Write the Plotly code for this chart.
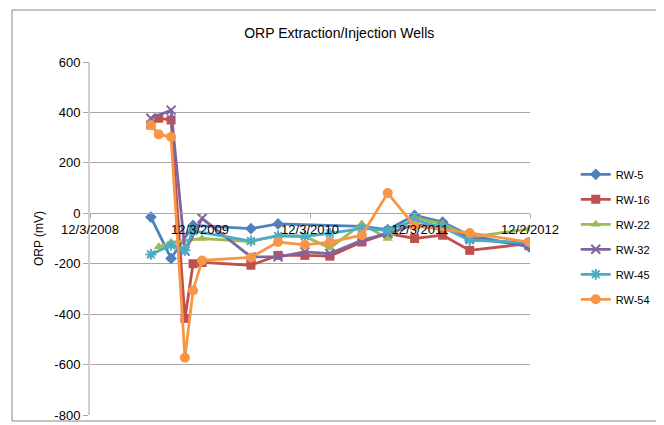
import plotly.graph_objects as go

dates = ["2009-06-23", "2009-07-19", "2009-08-29", "2009-10-14", "2009-11-10",
         "2009-12-10", "2010-05-21", "2010-08-19", "2010-11-16", "2011-02-07",
         "2011-05-24", "2011-08-18", "2011-11-15", "2012-02-16", "2012-05-16",
         "2012-11-29"]

rw5  = [-15, None, -179, None, -48, None, -61, -42, None, None, -52, -65, -8, -35, -88, -133]
rw16 = [350, 377, 370, -417, -200, -195, -206, -167, -167, -170, -114, -80, -100, -87, -147, -120]
rw22 = [None, -133, -115, None, None, -100, -112, -88, -92, -138, -42, -100, -18, -42, -95, -62]
rw32 = [377, None, 409, -150, None, -20, -173, -173, -153, -160, -107, -80, -45, -55, -100, -127]
rw45 = [-163, None, -127, -147, -70, None, -110, -90, -91, -80, -60, -68, -28, -55, -107, -115]
rw54 = [350, 313, 303, -573, -306, -187, -175, -114, -125, -114, -87, 80, -50, None, -78, -114]

series_names = ["RW-5", "RW-16", "RW-22", "RW-32", "RW-45", "RW-54"]
series_vals = [rw5, rw16, rw22, rw32, rw45, rw54]
colors = ["#4F81BD", "#C0504D", "#9BBB59", "#8064A2", "#4BACC6", "#F79646"]
symbols = ["diamond", "square", "triangle-up", "x-thin", "asterisk", "circle"]
sizes = [9, 9, 9, 9, 9, 10]

x_tickvals = ["2008-12-03", "2009-12-03", "2010-12-03", "2011-12-03", "2012-12-02"]
x_ticktext = ["12/3/2008", "12/3/2009", "12/3/2010", "12/3/2011", "12/2/2012"]
y_ticks = [-800, -600, -400, -200, 0, 200, 400, 600]
y_ticktext = ["-800", "-600", "-400", "-200", "0", "200", "400", "600"]

fig = go.Figure()
for i, (name, vals) in enumerate(zip(series_names, series_vals)):
    sym = symbols[i]
    marker = dict(symbol=sym, size=sizes[i], color=colors[i])
    if sym in ("x-thin", "asterisk"):
        marker["line"] = dict(color=colors[i], width=2)
    fig.add_trace(go.Scatter(
        x=dates, y=vals, name=name, mode="lines+markers",
        connectgaps=True,
        line=dict(color=colors[i], width=2.8),
        marker=marker,
        legendgroup=name,
    ))

font = "Liberation Sans"
W, H = 656, 417
L, T, PW, PH = 82, 54, 440, 353
fig.update_layout(
    width=W, height=H,
    margin=dict(l=L, r=W - L - PW, t=T, b=H - T - PH, autoexpand=False),
    paper_bgcolor="white", plot_bgcolor="white",
    font=dict(family=font, size=12, color="#000000"),
    title=dict(text="ORP Extraction/Injection Wells", x=0.505, xanchor="center",
               y=1 - 25 / H, yanchor="middle", font=dict(family=font, size=14)),
    showlegend=True,
    legend=dict(x=1.104, xanchor="left", y=0.723, yanchor="top",
                font=dict(family=font, size=11), tracegroupgap=6,
                bgcolor="rgba(0,0,0,0)", itemwidth=30),
    xaxis=dict(
        type="date", range=["2008-12-03", "2012-12-02"],
        tickvals=x_tickvals, ticktext=x_ticktext,
        anchor="free", position=800 / 1400, automargin=False,
        showgrid=False, showline=True, linecolor="#A6A6A6", linewidth=1,
        ticks="outside", ticklen=4, tickcolor="#A6A6A6",
        tickfont=dict(family=font, size=13), zeroline=False,
    ),
    yaxis=dict(
        range=[-800, 600], tickvals=y_ticks, ticktext=y_ticktext, domain=[0, 1],
        automargin=False,
        showgrid=True, gridcolor="#A6A6A6", gridwidth=1,
        showline=True, linecolor="#D0D0D0", linewidth=2,
        ticks="outside", ticklen=5, tickcolor="#A6A6A6",
        tickfont=dict(family=font, size=13), zeroline=False,
        title=dict(text="ORP (mV)", font=dict(family=font, size=12), standoff=8),
    ),
)

fig.add_shape(type="rect", xref="paper", yref="paper",
              x0=(4 - L) / PW, x1=(649 - L) / PW,
              y0=(T + PH - 413) / PH, y1=(T + PH - 2) / PH,
              line=dict(color="#868686", width=1), fillcolor="rgba(0,0,0,0)", layer="below")

fig.write_html("out.html")
